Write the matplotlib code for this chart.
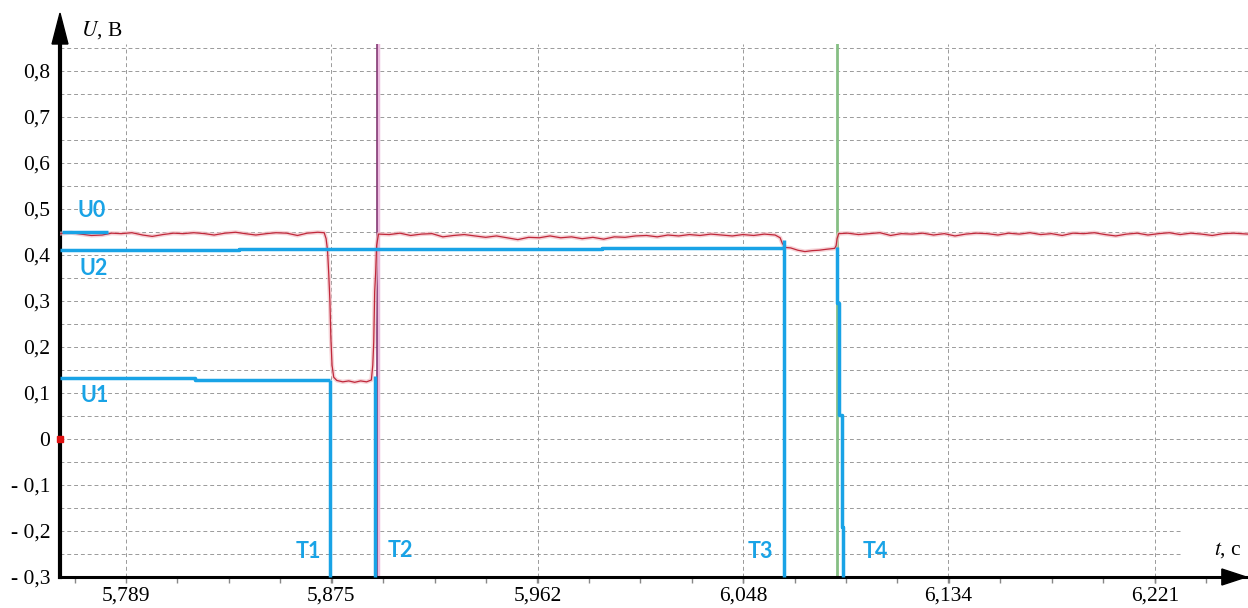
import numpy as np
import matplotlib.pyplot as plt
from matplotlib.patches import Polygon, Rectangle

plt.rcParams['mathtext.fontset'] = 'stix'
plt.rcParams['font.family'] = ['Liberation Serif', 'DejaVu Serif']

# измеренный сигнал U(t)
t_red = [5.7613, 5.7660, 5.7700, 5.7745, 5.7790, 5.7830, 5.7870, 5.7915, 5.7960, 5.8000,
         5.8045, 5.8090, 5.8130, 5.8175, 5.8220, 5.8260, 5.8305, 5.8350, 5.8390, 5.8435,
         5.8480, 5.8520, 5.8565, 5.8610, 5.8650, 5.8695, 5.8722,
         5.8730, 5.8736, 5.8741, 5.8746, 5.8750, 5.8755, 5.8762, 5.8775, 5.8800, 5.8825,
         5.8850, 5.8875, 5.8900, 5.8920, 5.8926, 5.8930, 5.8934, 5.8938, 5.8942, 5.8950,
         5.8995, 5.9040, 5.9085, 5.9130, 5.9175, 5.9220, 5.9265, 5.9310, 5.9355, 5.9400,
         5.9445, 5.9490, 5.9535, 5.9580, 5.9625, 5.9670, 5.9715, 5.9760, 5.9805, 5.9850,
         5.9895, 5.9940, 5.9985, 6.0030, 6.0075, 6.0120, 6.0165, 6.0210, 6.0255, 6.0300,
         6.0345, 6.0390, 6.0435, 6.0480, 6.0525, 6.0570, 6.0615,
         6.0636, 6.0645, 6.0657, 6.0680, 6.0710, 6.0740, 6.0770, 6.0800, 6.0830, 6.0865,
         6.0871, 6.0875, 6.0882,
         6.0920, 6.0965, 6.1010, 6.1055, 6.1100, 6.1145, 6.1190, 6.1235, 6.1280, 6.1325,
         6.1370, 6.1415, 6.1460, 6.1505, 6.1550, 6.1595, 6.1640, 6.1685, 6.1730, 6.1775,
         6.1820, 6.1865, 6.1910, 6.1955, 6.2000, 6.2045, 6.2090, 6.2135, 6.2180, 6.2225,
         6.2270, 6.2315, 6.2360, 6.2405, 6.2450, 6.2495, 6.2540, 6.2600]
u_red = [0.446, 0.448, 0.445, 0.442, 0.443, 0.447, 0.446, 0.448, 0.443, 0.440,
         0.444, 0.447, 0.446, 0.448, 0.446, 0.443, 0.447, 0.449, 0.446, 0.443,
         0.446, 0.448, 0.447, 0.442, 0.447, 0.449, 0.448,
         0.435, 0.410, 0.360, 0.300, 0.220, 0.160, 0.134, 0.127, 0.124, 0.126,
         0.123, 0.126, 0.124, 0.128, 0.160, 0.210, 0.320, 0.360, 0.420, 0.445,
         0.444, 0.447, 0.442, 0.445, 0.446, 0.439, 0.442, 0.444, 0.441, 0.438,
         0.441, 0.437, 0.433, 0.438, 0.437, 0.441, 0.437, 0.439, 0.435, 0.438,
         0.434, 0.439, 0.438, 0.441, 0.442, 0.439, 0.443, 0.441, 0.444, 0.442,
         0.445, 0.443, 0.441, 0.444, 0.442, 0.445, 0.443,
         0.437, 0.425, 0.416, 0.415, 0.410, 0.407, 0.409, 0.410, 0.412, 0.414,
         0.420, 0.435, 0.446,
         0.447, 0.444, 0.446, 0.448, 0.442, 0.446, 0.445, 0.447, 0.443, 0.446,
         0.441, 0.445, 0.447, 0.446, 0.443, 0.447, 0.445, 0.448, 0.444, 0.446,
         0.442, 0.447, 0.446, 0.448, 0.444, 0.441, 0.445, 0.447, 0.443, 0.446,
         0.448, 0.444, 0.447, 0.445, 0.442, 0.446, 0.447, 0.445]

# уровни и моменты времени (синие линии)
t_u0 = [5.7621, 5.7814]
u_u0 = [0.449, 0.449]
t_u2 = [5.7613, 5.8364, 5.8364, 5.9889, 5.9889, 6.0652]
u_u2 = [0.410, 0.410, 0.412, 0.412, 0.414, 0.414]
t_u1 = [5.7613, 5.8180, 5.8180, 5.8746]
u_u1 = [0.132, 0.132, 0.128, 0.128]
t_T1 = [5.8746, 5.8746]
u_T1 = [0.128, -0.3]
t_T2 = [5.8936, 5.8936]
u_T2 = [0.136, -0.3]
t_T3 = [6.0652, 6.0652]
u_T3 = [0.432, -0.3]
t_T4 = [6.0876, 6.0876, 6.08845, 6.08845, 6.0895, 6.0895, 6.0901, 6.0901]
u_T4 = [0.417, 0.296, 0.296, 0.052, 0.052, -0.191, -0.191, -0.3]

t_purple = 5.8945
t_green = 6.0876

labels = ['U0', 'U2', 'U1', 'T1', 'T2', 'T3', 'T4']
label_t = [5.7747, 5.7756, 5.7760, 5.8654, 5.9040, 6.0552, 6.1034]
label_u = [0.497, 0.371, 0.095, -0.245, -0.243, -0.245, -0.245]

x_ticks = [5.789, 5.875, 5.962, 6.048, 6.134, 6.221]
x_labels = ['5,789', '5,875', '5,962', '6,048', '6,134', '6,221']
y_ticks = [-0.3, -0.2, -0.1, 0.0, 0.1, 0.2, 0.3, 0.4, 0.5, 0.6, 0.7, 0.8]
y_labels = ['- 0,3', '- 0,2', '- 0,1', '0', '0,1', '0,2', '0,3', '0,4', '0,5', '0,6', '0,7', '0,8']

blue = '#19a3e6'

fig = plt.figure(figsize=(12.48, 6.08), dpi=100)
ax = fig.add_axes([60 / 1248, 31 / 608, 1188 / 1248, 533 / 608])
ax.set_xlim(5.7613, 6.2600)
ax.set_ylim(-0.3, 0.858)

# сетка
ax.set_xticks(x_ticks)
ax.set_xticklabels(x_labels)
ax.set_xticks(np.arange(5.789 - 0.02159, 6.26, 0.02159), minor=True)
ax.set_yticks(y_ticks)
ax.set_yticklabels(y_labels)
ax.set_yticks(np.arange(-0.25, 0.86, 0.1), minor=True)
ax.grid(axis='x', which='major', color='#9a9a9a', linestyle=(0, (4, 3)), linewidth=0.7)
ax.grid(axis='y', which='both', color='#9a9a9a', linestyle=(0, (4, 3)), linewidth=0.7)
ax.tick_params(axis='x', which='both', direction='out', length=4, width=1, color='#888888',
               labelsize=15.5, pad=3)
ax.tick_params(axis='y', which='both', length=0, labelsize=15.5, pad=7)

for s in ['top', 'right']:
    ax.spines[s].set_visible(False)
ax.spines['left'].set_linewidth(3)
ax.spines['bottom'].set_linewidth(2.2)

# стрелки осей
ax.add_patch(Polygon([(-0.0067, 1.0), (0.0067, 1.0), (0.0, 1.058)], closed=True,
                     transform=ax.transAxes, clip_on=False, color='black', zorder=5))
ax.add_patch(Polygon([(0.978, -0.015), (0.978, 0.015), (0.9985, 0.0)], closed=True,
                     transform=ax.transAxes, clip_on=False, color='black', zorder=5))

# фон под подписью оси t
ax.add_patch(Rectangle((6.2328, -0.275), 0.03, 0.09, color='white', zorder=1.6))

# вертикальные маркеры
ax.axvline(t_purple + 0.0004, color='#ecbde0', linewidth=2.5, zorder=2)
ax.axvline(t_purple, color='#7b2d6b', linewidth=1.1, zorder=2.1)
ax.axvline(t_green, color='#86bf84', linewidth=2.0, zorder=2)

# сигнал
ax.plot(t_red, u_red, color='#f2c0c6', linewidth=3.0, alpha=0.7, zorder=3)
ax.plot(t_red, u_red, color='#c0283a', linewidth=0.9, zorder=3.1)

# синие построения
for tt, uu in [(t_u0, u_u0), (t_u2, u_u2), (t_u1, u_u1), (t_T1, u_T1),
               (t_T2, u_T2), (t_T3, u_T3), (t_T4, u_T4)]:
    ax.plot(tt, uu, color=blue, linewidth=2.5, solid_capstyle='butt', zorder=4, clip_on=False)

for lab, tx, uy in zip(labels, label_t, label_u):
    ax.text(tx, uy, lab, color=blue, fontsize=15.5, fontweight='bold', family='Lato',
            ha='center', va='center', zorder=6)

ax.plot(5.7613, 0, marker='s', color='#e01010', markersize=4, clip_on=False, zorder=6)

ax.text(0.035, 1.026, '$U$, В', transform=ax.transAxes, fontsize=15.5,
        ha='center', va='center')
ax.text(6.2517, -0.241, '$t$, с', fontsize=15.5, ha='center', va='center', zorder=6)

fig.savefig('out.png', dpi=100)
